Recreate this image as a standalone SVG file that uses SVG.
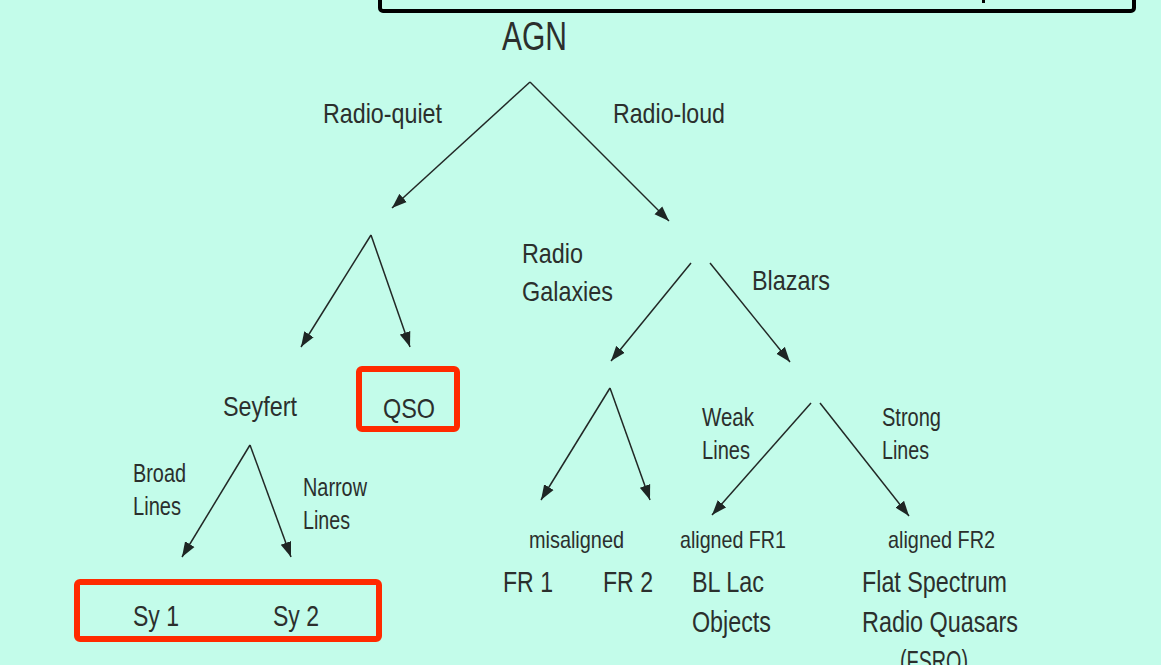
<svg xmlns="http://www.w3.org/2000/svg" width="1161" height="665" viewBox="0 0 1161 665">
<defs>
<style>
text{font-family:"Liberation Sans",Arial,sans-serif;fill:#2b2f2d;}
.l{font-size:28px;}
.s{font-size:25px;}
.m{font-size:24px;}
.b{font-size:29px;}
.conn line{stroke:#222826;stroke-width:1.5;marker-end:url(#ah);}
.red{fill:none;stroke:#ff2a00;stroke-width:6;}
</style>
<marker id="ah" markerUnits="userSpaceOnUse" markerWidth="16" markerHeight="12" refX="15" refY="6" orient="auto">
<path d="M0,0.5 L15,6 L0,11.5 z" fill="#1e2624"/>
</marker>
</defs>
<rect x="0" y="0" width="1161" height="665" fill="#c3fcea"/>
<g id="topbox">
<rect x="380" y="-10" width="754" height="21" rx="3" fill="none" stroke="#000" stroke-width="4"/>
<rect x="982" y="0" width="3" height="3" fill="#000"/>
</g>
<g class="conn" id="connectors">
<line x1="530" y1="82" x2="392" y2="208"/>
<line x1="530" y1="82" x2="669" y2="221"/>
<line x1="371" y1="235" x2="301" y2="347"/>
<line x1="371" y1="235" x2="410" y2="347"/>
<line x1="250" y1="445" x2="182" y2="557"/>
<line x1="250" y1="445" x2="291" y2="557"/>
<line x1="691" y1="263" x2="611" y2="361"/>
<line x1="710" y1="263" x2="790" y2="362"/>
<line x1="610" y1="388" x2="541" y2="500"/>
<line x1="610" y1="388" x2="650" y2="500"/>
<line x1="811" y1="403" x2="712" y2="515"/>
<line x1="820" y1="403" x2="909" y2="516"/>
</g>
<g id="agn"><text x="502" y="50" style="font-size:40px" textLength="65" lengthAdjust="spacingAndGlyphs">AGN</text></g>
<g id="radio-quiet"><text class="l" x="323" y="123" textLength="119" lengthAdjust="spacingAndGlyphs">Radio-quiet</text></g>
<g id="radio-loud"><text class="l" x="613" y="123" textLength="112" lengthAdjust="spacingAndGlyphs">Radio-loud</text></g>
<g id="radio-galaxies">
<text class="l" x="522" y="263" textLength="61" lengthAdjust="spacingAndGlyphs">Radio</text>
<text class="l" x="522" y="301" textLength="91" lengthAdjust="spacingAndGlyphs">Galaxies</text>
</g>
<g id="blazars"><text class="l" x="752" y="290" textLength="78" lengthAdjust="spacingAndGlyphs">Blazars</text></g>
<g id="seyfert"><text class="l" x="223" y="416" textLength="74" lengthAdjust="spacingAndGlyphs">Seyfert</text></g>
<g id="qso">
<rect class="red" x="359" y="369" width="98" height="60" rx="3"/>
<text class="l" x="383" y="418" textLength="52" lengthAdjust="spacingAndGlyphs">QSO</text>
</g>
<g id="broad-lines">
<text class="s" x="133" y="482" textLength="53" lengthAdjust="spacingAndGlyphs">Broad</text>
<text class="s" x="133" y="515" textLength="48" lengthAdjust="spacingAndGlyphs">Lines</text>
</g>
<g id="narrow-lines">
<text class="s" x="303" y="496" textLength="64" lengthAdjust="spacingAndGlyphs">Narrow</text>
<text class="s" x="303" y="529" textLength="47" lengthAdjust="spacingAndGlyphs">Lines</text>
</g>
<g id="sy">
<rect class="red" x="77" y="582" width="302" height="57" rx="3"/>
<text class="b" x="133" y="626" textLength="46" lengthAdjust="spacingAndGlyphs">Sy 1</text>
<text class="b" x="273" y="626" textLength="46" lengthAdjust="spacingAndGlyphs">Sy 2</text>
</g>
<g id="weak-lines">
<text class="s" x="702" y="426" textLength="52" lengthAdjust="spacingAndGlyphs">Weak</text>
<text class="s" x="702" y="459" textLength="48" lengthAdjust="spacingAndGlyphs">Lines</text>
</g>
<g id="strong-lines">
<text class="s" x="882" y="426" textLength="59" lengthAdjust="spacingAndGlyphs">Strong</text>
<text class="s" x="882" y="459" textLength="47" lengthAdjust="spacingAndGlyphs">Lines</text>
</g>
<g id="misaligned">
<text class="m" x="529" y="548" textLength="95" lengthAdjust="spacingAndGlyphs">misaligned</text>
<text class="b" x="503" y="592" textLength="50" lengthAdjust="spacingAndGlyphs">FR 1</text>
<text class="b" x="603" y="592" textLength="50" lengthAdjust="spacingAndGlyphs">FR 2</text>
</g>
<g id="aligned-fr1">
<text class="m" x="680" y="548" textLength="106" lengthAdjust="spacingAndGlyphs">aligned FR1</text>
<text class="b" x="692" y="592" textLength="72" lengthAdjust="spacingAndGlyphs">BL Lac</text>
<text class="b" x="692" y="632" textLength="79" lengthAdjust="spacingAndGlyphs">Objects</text>
</g>
<g id="aligned-fr2">
<text class="m" x="888" y="548" textLength="107" lengthAdjust="spacingAndGlyphs">aligned FR2</text>
<text class="b" x="862" y="592" textLength="145" lengthAdjust="spacingAndGlyphs">Flat Spectrum</text>
<text class="b" x="862" y="632" textLength="156" lengthAdjust="spacingAndGlyphs">Radio Quasars</text>
<text class="b" x="900" y="671" textLength="68" lengthAdjust="spacingAndGlyphs">(FSRQ)</text>
</g>
</svg>
